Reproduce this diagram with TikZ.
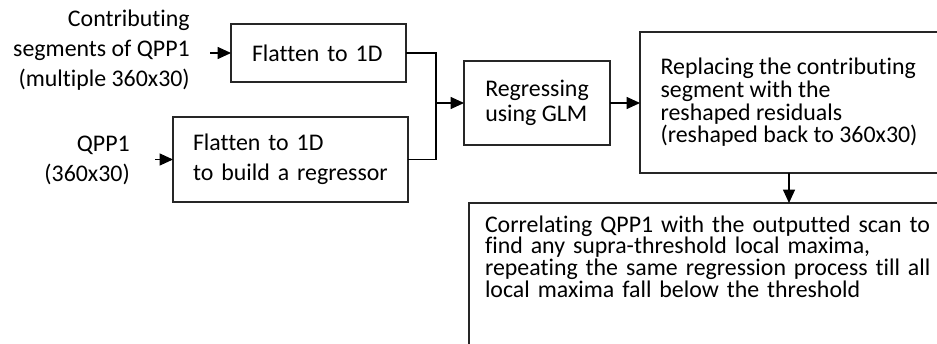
\documentclass[tikz,border=0pt]{standalone}
\usepackage{fontspec}
\setmainfont{Carlito}[Ligatures=NoCommon]
\usetikzlibrary{arrows.meta,calc}
\newdimen\pxu \pxu=0.75pt
% text size with a fixed line pitch
\newcommand\fsz[1]{\fontsize{17.9}{#1}\selectfont}

\begin{document}
\lineskiplimit=-100pt
\lineskip=0pt
\begin{tikzpicture}[x=0.75pt,y=-0.75pt,
  font=\fsz{17},
  box/.style={draw=black!85, line width=1pt, anchor=north west,
    align=left, inner ysep=0pt, outer sep=0pt},
  lbl/.style={inner sep=0pt, align=right, anchor=east, font=\fsz{22.5}},
  wire/.style={line width=0.8pt},
  arr/.style={wire, -{Triangle[length=10pt,width=9pt]}}]
\useasboundingbox (0,0) rectangle (937,343);
\clip (0,0) rectangle (937,343);

% inputs
\node[lbl] (L1) at (190,50) {Contributing\\segments of QPP1\\(multiple 360x30)};
\node[lbl] (L2) at (130,160) {QPP1\\(360x30)};

% flattening steps
\node[box, inner xsep=21\pxu, text width=133\pxu, minimum height=58\pxu]
  (A) at (231,24) {Flatten to 1D};
\node[box, inner xsep=20\pxu, text width=195\pxu, minimum height=85\pxu,
  font=\fsz{22.5}]
  (B) at (173,117) {Flatten to 1D\\to build a regressor};

% regression
\node[box, inner xsep=0pt, minimum width=146\pxu, minimum height=84\pxu,
  font=\fsz{18.75}]
  (G) at (464,61) {Regressing\\using GLM};

% residual replacement
\node[box, inner xsep=0pt, minimum width=298\pxu, minimum height=141\pxu]
  (R) at (640,32) {Replacing the contributing\\segment with the\\reshaped residuals\\(reshaped back to 360x30)};

% iteration step
\node[box, inner xsep=16\pxu, text width=480\pxu, text height=29\pxu,
  text depth=160\pxu, font=\fsz{16.3}]
  (C) at (469,203) {Correlating QPP1 with the outputted scan to\\find any supra-threshold local maxima,\\repeating the same regression process till all\\local maxima fall below the threshold};

% connectors
\coordinate (J) at (436,103);
\draw[arr] ($(L1.east |- A.west)+(20,0)$) -- (A.west);
\draw[arr] ($(L2.east |- B.west)+(25,0)$) -- (B.west);
\draw[wire] (A.east) -| (J);
\draw[wire] (B.east) -| (J);
\draw[arr] (J) -- (J -| G.west);
\draw[arr] (G.east) -- (G.east -| R.west);
\draw[arr] (R.south) -- (R.south |- C.north);
\end{tikzpicture}
\end{document}
